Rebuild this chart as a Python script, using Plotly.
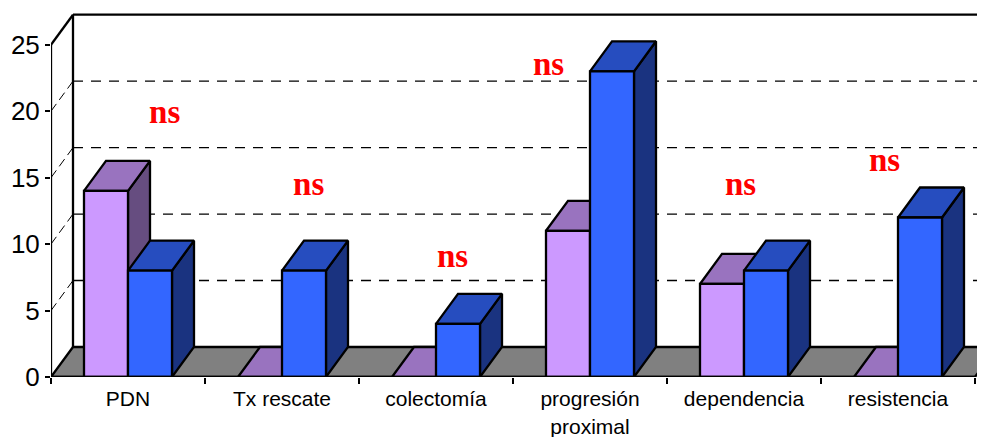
import plotly.graph_objects as go

categories = ["PDN", "Tx rescate", "colectomía", "progresión<br>proximal", "dependencia", "resistencia"]
series_a = [14, 0, 0, 11, 7, 0]
series_b = [8, 8, 4, 23, 8, 12]
y_ticks = [0, 5, 10, 15, 20, 25]
ns_x = [0.738, 1.673, 2.608, 3.231, 4.478, 5.413]
ns_y = [19.74, 14.32, 8.89, 23.35, 14.32, 16.12]

# the page keeps its 8px body margin, so the figure is 8px smaller on each side
W, H = 977, 429
LEFT, BASE, CAT_PX, UNIT_PX = 43.0, 368.7, 154.0, 13.28
BAR_W = 44 / CAT_PX
DX, DY = 22 / CAT_PX, 30 / UNIT_PX
X_MAX = (W - LEFT) / CAT_PX
Y_MAX = BASE / UNIT_PX
N = len(categories)
YTOP = y_ticks[-1]

COL_A = ("#CC99FF", "#9973BF", "#664D80")
COL_B = ("#3366FF", "#264DBF", "#1A3380")
LW = 2.3


def poly(xs, ys, fill=None, width=LW, dash=None, color="black"):
    return go.Scatter(
        x=xs, y=ys, mode="lines",
        line=dict(color=color, width=width, dash=dash),
        fill="toself" if fill else "none", fillcolor=fill,
        hoverinfo="skip", showlegend=False, cliponaxis=False,
    )


fig = go.Figure()

# floor
fig.add_trace(poly([0, N, N + DX, DX, 0], [0, 0, DY, DY, 0], fill="#808080"))

# back wall gridlines, with their dashed diagonals on the side wall
for v in y_ticks[1:-1]:
    fig.add_trace(poly([DX, X_MAX], [v + DY, v + DY], width=1.3, dash="10px,8px"))
    fig.add_trace(poly([0, DX], [v, v + DY], width=1, dash="9px,5px"))

# frame
fig.add_trace(poly([0, 0], [0, YTOP]))
fig.add_trace(poly([0, DX], [YTOP, YTOP + DY]))
fig.add_trace(poly([DX, DX], [DY, YTOP + DY]))
fig.add_trace(poly([DX, X_MAX], [YTOP + DY, YTOP + DY]))


def add_bar(x0, v, cols):
    x1 = x0 + BAR_W
    front, top, side = cols
    if v > 0:
        fig.add_trace(poly([x1, x1 + DX, x1 + DX, x1, x1], [0, DY, v + DY, v, 0], fill=side))
    fig.add_trace(poly([x0, x1, x1 + DX, x0 + DX, x0], [v, v, v + DY, v + DY, v], fill=top))
    if v > 0:
        fig.add_trace(poly([x0, x1, x1, x0, x0], [0, 0, v, v, 0], fill=front))


for i in range(N):
    add_bar(i + 0.5 - BAR_W, series_a[i], COL_A)
    add_bar(i + 0.5, series_b[i], COL_B)

# front axis line
fig.add_trace(poly([0, N], [0, 0]))

fig.add_trace(go.Scatter(
    x=ns_x, y=ns_y, mode="text", text=["ns"] * len(ns_x), textposition="middle center",
    textfont=dict(family="Liberation Serif", size=33, color="#FF0000", weight="bold"),
    hoverinfo="skip", showlegend=False, cliponaxis=False,
))

fig.update_layout(
    width=W, height=H, autosize=False,
    margin=dict(l=LEFT, r=0, t=0, b=H - BASE, pad=0),
    paper_bgcolor="white", plot_bgcolor="white",
    font=dict(family="Liberation Sans", color="black"),
    xaxis=dict(
        automargin=False,
        range=[0, X_MAX], showgrid=False, zeroline=False, showline=False,
        tickmode="array", tickvals=[i + 0.5 for i in range(N)], ticktext=categories,
        ticks="outside", ticklen=3, tickcolor="rgba(0,0,0,0)", tickwidth=1,
        tickfont=dict(size=21, family="Liberation Sans", color="black"),
        minor=dict(tickmode="array", tickvals=list(range(N + 1)), ticks="outside",
                   ticklen=6, tickwidth=2, tickcolor="black", showgrid=False),
    ),
    yaxis=dict(
        automargin=False,
        range=[0, Y_MAX], showgrid=False, zeroline=False, showline=False,
        tickmode="array", tickvals=y_ticks, ticktext=[str(v) for v in y_ticks],
        ticks="outside", ticklen=5, tickwidth=2, tickcolor="black",
        tickfont=dict(size=26, family="Liberation Sans", color="black"),
    ),
)

fig.write_html("out.html")
